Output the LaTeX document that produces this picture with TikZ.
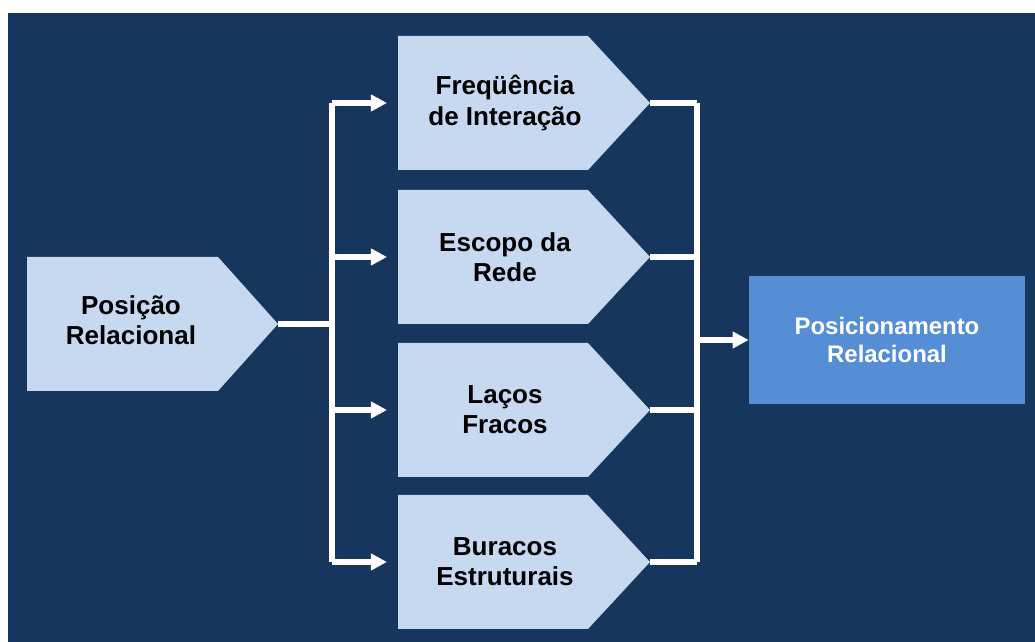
\documentclass[tikz,border=0pt]{standalone}
\usepackage{fontspec}
\setmainfont{Liberation Sans}
\usetikzlibrary{arrows.meta}

\definecolor{navy}{HTML}{17365D}
\definecolor{paleblue}{HTML}{C6D9F1}
\definecolor{midblue}{HTML}{558ED5}

\tikzset{
  chevron/.style={fill=paleblue},
  darktext/.style={text=black,align=center,font=\bfseries\fontsize{18.5}{21.5}\selectfont},
  lighttext/.style={text=white,align=center,font=\bfseries\fontsize{17}{20}\selectfont},
  link/.style={draw=white,line width=3.9pt},
  linkarrow/.style={link,-{Triangle[length=11.5pt,width=11.5pt]}}
}

\begin{document}
\begin{tikzpicture}[x=0.025cm,y=-0.025cm]
  \useasboundingbox (0,0) rectangle (1035,642);
  \fill[navy] (8,13) rectangle (1035,642);

  % source
  \fill[chevron] (27,257) -- (218,257) -- (278,324) -- (218,391) -- (27,391) -- cycle;
  \node[darktext] (pr) at (131,320) {Posição\\Relacional};
  \coordinate (pr-tip) at (278,324);
  \coordinate (split) at (332,324);

  % four dimensions
  \foreach \yc/\nm/\txt in {103/fi/{Freqüência\\de Interação},257/er/{Escopo da\\Rede},
                            410/lf/{Laços\\Fracos},562/be/{Buracos\\Estruturais}} {
    \fill[chevron] (398,\yc-67) -- (588,\yc-67) -- (650,\yc) -- (588,\yc+67) -- (398,\yc+67) -- cycle;
    \node[darktext] (\nm) at (505,\yc) {\txt};
    \coordinate (\nm-in) at (387,\yc);
    \coordinate (\nm-tip) at (650,\yc);
    \coordinate (\nm-l) at (332,\yc);
    \coordinate (\nm-r) at (697,\yc);
  }

  % result
  \node[fill=midblue,inner sep=0pt,minimum width=6.9cm,minimum height=3.2cm,
        lighttext] (pos) at (887,340) {Posicionamento\\Relacional};
  \coordinate (join) at (697,340);

  % connectors
  \draw[link] (pr-tip) -- (split);
  \draw[link] (fi-l) -- (be-l);
  \foreach \nm in {fi,er,lf,be} {
    \draw[linkarrow] (\nm-l) -- (\nm-in);
    \draw[link] (\nm-tip) -- (\nm-r);
  }
  \draw[link] (fi-r) -- (be-r);
  \draw[linkarrow] (join) -- (pos.west);
\end{tikzpicture}
\end{document}
